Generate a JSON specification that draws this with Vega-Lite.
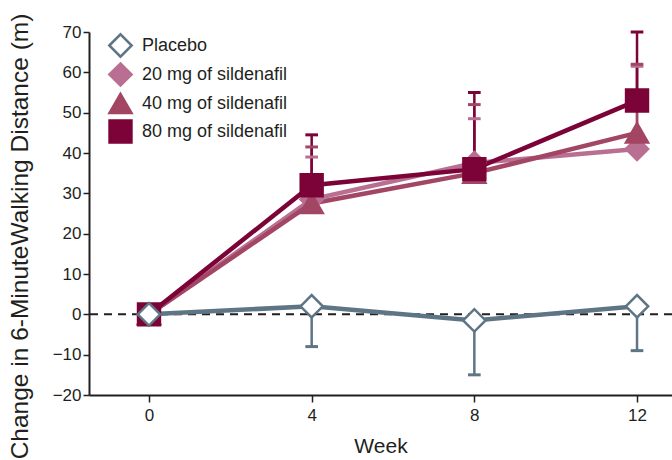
{
  "$schema": "https://vega.github.io/schema/vega-lite/v6.json",
  "autosize": {"type": "none"},
  "width": 583,
  "height": 363,
  "padding": {"left": 89, "top": 32, "right": 0, "bottom": 65},
  "background": "white",
  "config": {
    "view": {"stroke": null},
    "font": "Liberation Sans",
    "axis": {"labelFont": "Liberation Sans", "titleFont": "Liberation Sans", "labelColor": "#231f20", "titleColor": "#231f20", "domainColor": "#231f20", "tickColor": "#231f20", "grid": false, "titleFontWeight": "normal"}
  },
  "datasets": {
    "means": [
      {"week": 0, "group": "20 mg of sildenafil", "mean": 0},
      {"week": 4, "group": "20 mg of sildenafil", "mean": 28.5},
      {"week": 8, "group": "20 mg of sildenafil", "mean": 37.5},
      {"week": 12, "group": "20 mg of sildenafil", "mean": 41},
      {"week": 0, "group": "40 mg of sildenafil", "mean": 0},
      {"week": 4, "group": "40 mg of sildenafil", "mean": 27.5},
      {"week": 8, "group": "40 mg of sildenafil", "mean": 35},
      {"week": 12, "group": "40 mg of sildenafil", "mean": 45},
      {"week": 0, "group": "80 mg of sildenafil", "mean": 0},
      {"week": 4, "group": "80 mg of sildenafil", "mean": 32},
      {"week": 8, "group": "80 mg of sildenafil", "mean": 36},
      {"week": 12, "group": "80 mg of sildenafil", "mean": 53},
      {"week": 0, "group": "Placebo", "mean": 0},
      {"week": 4, "group": "Placebo", "mean": 2},
      {"week": 8, "group": "Placebo", "mean": -1.5},
      {"week": 12, "group": "Placebo", "mean": 2}
    ],
    "errors": [
      {"week": 4, "group": "Placebo", "mean": 2, "end": -8},
      {"week": 8, "group": "Placebo", "mean": -1.5, "end": -15},
      {"week": 12, "group": "Placebo", "mean": 2, "end": -9},
      {"week": 4, "group": "20 mg of sildenafil", "mean": 28.5, "end": 39},
      {"week": 8, "group": "20 mg of sildenafil", "mean": 37.5, "end": 48.5},
      {"week": 12, "group": "20 mg of sildenafil", "mean": 41, "end": 61.5},
      {"week": 4, "group": "40 mg of sildenafil", "mean": 27.5, "end": 41.5},
      {"week": 8, "group": "40 mg of sildenafil", "mean": 35, "end": 52},
      {"week": 12, "group": "40 mg of sildenafil", "mean": 45, "end": 62},
      {"week": 4, "group": "80 mg of sildenafil", "mean": 32, "end": 44.5},
      {"week": 8, "group": "80 mg of sildenafil", "mean": 36, "end": 55},
      {"week": 12, "group": "80 mg of sildenafil", "mean": 53, "end": 70}
    ],
    "zero": [{"y": 0}]
  },
  "layer": [
    {
      "data": {"name": "zero"},
      "mark": {"type": "rule", "color": "#231f20", "strokeWidth": 2, "strokeDash": [8, 6]},
      "encoding": {"y": {"field": "y", "type": "quantitative"}}
    },
    {
      "data": {"name": "errors"},
      "mark": {"type": "rule", "strokeWidth": 2.5},
      "encoding": {
        "x": {"field": "week", "type": "quantitative"},
        "y": {"field": "mean", "type": "quantitative"},
        "y2": {"field": "end"},
        "stroke": {"field": "group", "type": "nominal", "title": null}
      }
    },
    {
      "data": {"name": "errors"},
      "mark": {"type": "point", "shape": "M-1,0L1,0", "strokeWidth": 3, "size": 160, "filled": false, "opacity": 1},
      "encoding": {
        "x": {"field": "week", "type": "quantitative"},
        "y": {"field": "end", "type": "quantitative"},
        "stroke": {"field": "group", "type": "nominal", "title": null}
      }
    },
    {
      "data": {"name": "means"},
      "mark": {"type": "line", "strokeWidth": 4.5},
      "encoding": {
        "x": {"field": "week", "type": "quantitative"},
        "y": {"field": "mean", "type": "quantitative"},
        "stroke": {"field": "group", "type": "nominal", "title": null}
      }
    },
    {
      "data": {"name": "means"},
      "mark": {"type": "point", "strokeWidth": 2.5, "opacity": 1, "filled": true},
      "encoding": {
        "x": {
          "field": "week", "type": "quantitative",
          "scale": {"domain": [-1.475, 12.86], "nice": false, "zero": false},
          "axis": {"values": [0, 4, 8, 12], "title": "Week", "labelFontSize": 17, "titleFontSize": 21, "tickSize": 7, "tickWidth": 1.5, "domainWidth": 2, "labelPadding": 5, "titlePadding": 12}
        },
        "y": {
          "field": "mean", "type": "quantitative",
          "scale": {"domain": [-20, 70], "nice": false},
          "axis": {"values": [-20, -10, 0, 10, 20, 30, 40, 50, 60, 70], "title": "Change in 6-MinuteWalking Distance (m)", "labelFontSize": 17, "titleFontSize": 24.5, "tickSize": 6, "tickWidth": 1.5, "domainWidth": 2, "labelPadding": 2, "titleX": -69, "titleY": 204, "titleAngle": -90, "titleAlign": "center", "titleBaseline": "middle"}
        },
        "shape": {"field": "group", "type": "nominal", "title": null,
          "scale": {"domain": ["Placebo", "20 mg of sildenafil", "40 mg of sildenafil", "80 mg of sildenafil"], "range": ["diamond", "diamond", "triangle-up", "square"]},
          "legend": {"orient": "none", "legendX": 19, "legendY": 1, "labelFontSize": 18, "labelColor": "#231f20", "labelFont": "Liberation Sans", "rowPadding": -4, "labelOffset": 9, "symbolStrokeWidth": 2.5, "labelLimit": 300}},
        "fill": {"field": "group", "type": "nominal", "title": null,
          "scale": {"domain": ["Placebo", "20 mg of sildenafil", "40 mg of sildenafil", "80 mg of sildenafil"], "range": ["#ffffff", "#b96f92", "#a24664", "#7b0337"]}},
        "stroke": {"field": "group", "type": "nominal", "title": null,
          "scale": {"domain": ["Placebo", "20 mg of sildenafil", "40 mg of sildenafil", "80 mg of sildenafil"], "range": ["#5e7585", "#b96f92", "#a24664", "#7b0337"]}},
        "size": {"field": "group", "type": "nominal", "title": null,
          "scale": {"domain": ["Placebo", "20 mg of sildenafil", "40 mg of sildenafil", "80 mg of sildenafil"], "range": [500, 480, 380, 340]}}
      }
    }
  ]
}
